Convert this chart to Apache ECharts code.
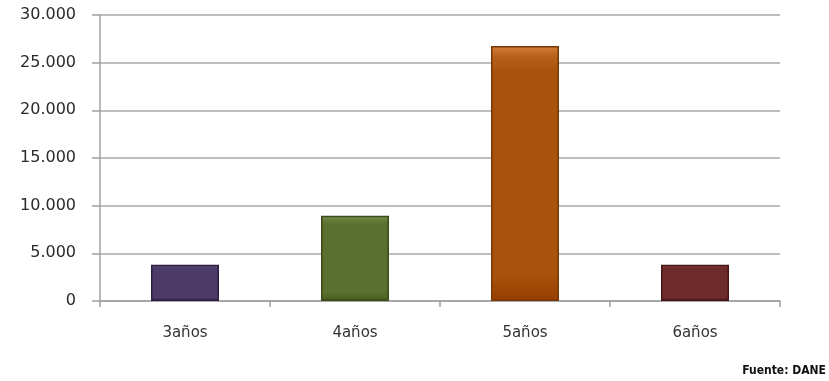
<!DOCTYPE html>
<html>
<head>
<meta charset="utf-8">
<script src="https://cdn.jsdelivr.net/npm/echarts@6/dist/echarts.min.js"></script>
<style>
  html, body { margin: 0; padding: 0; background: #fff; }
  #chart { width: 829px; height: 381px; }
</style>
</head>
<body>
<div id="chart"></div>
<script>
var categories = ['3años', '4años', '5años', '6años'];
var values = [3800, 8950, 26750, 3800];
var barColors = ['#4b3b66', '#5b6f2f', '#a9520d', '#6d2b2b'];
var edgeColors = ['#2b1e3e', '#3b4a1a', '#763804', '#461616'];
var yTicks = [0, 5000, 10000, 15000, 20000, 25000, 30000];

function fmt(v) {
    return String(v).replace(/\B(?=(\d{3})+(?!\d))/g, '.');
}

function shade(hex, amt) {
    var n = parseInt(hex.slice(1), 16);
    var r = Math.min(255, Math.max(0, (n >> 16) + amt));
    var g = Math.min(255, Math.max(0, ((n >> 8) & 255) + amt));
    var b = Math.min(255, Math.max(0, (n & 255) + amt));
    return 'rgb(' + r + ',' + g + ',' + b + ')';
}

var myChart = echarts.init(document.getElementById('chart'));

var option = {
    animation: false,
    textStyle: { fontFamily: 'DejaVu Sans, Verdana, sans-serif' },
    grid: { left: 100, right: 49, top: 15, bottom: 80, containLabel: false },
    xAxis: {
        type: 'category',
        data: categories,
        axisLine: { show: true, lineStyle: { color: '#a0a0a0', width: 1.5 } },
        axisTick: { show: true, length: 6, lineStyle: { color: '#a0a0a0', width: 1.5 } },
        axisLabel: { color: '#333', fontSize: 15, margin: 25 }
    },
    yAxis: {
        type: 'value',
        min: yTicks[0],
        max: yTicks[yTicks.length - 1],
        interval: 5000,
        axisLine: { show: true, lineStyle: { color: '#a0a0a0', width: 1.5 } },
        axisTick: { show: true, length: 8, lineStyle: { color: '#a0a0a0', width: 1.5 } },
        splitLine: { show: true, lineStyle: { color: '#a8a8a8', width: 1.5 } },
        axisLabel: {
            color: '#2a2a2a',
            fontSize: 16,
            margin: 24,
            formatter: function (v) { return fmt(v); }
        }
    },
    series: [{
        type: 'bar',
        barWidth: '40%',
        data: values.map(function (v, i) {
            return {
                value: v,
                itemStyle: {
                    color: {
                        type: 'linear', x: 0, y: 0, x2: 0, y2: 1,
                        colorStops: [
                            { offset: 0, color: shade(barColors[i], 45) },
                            { offset: 0.04, color: shade(barColors[i], 15) },
                            { offset: 0.1, color: barColors[i] },
                            { offset: 0.9, color: barColors[i] },
                            { offset: 1, color: shade(barColors[i], -20) }
                        ]
                    },
                    borderColor: edgeColors[i],
                    borderWidth: 1.5
                }
            };
        })
    }],
    graphic: [{
        type: 'text',
        right: 3,
        bottom: 4,
        style: {
            text: 'Fuente: DANE',
            fill: '#111',
            font: 'bold 12px "DejaVu Sans Condensed", "Liberation Sans Narrow", sans-serif'
        }
    }]
};

myChart.setOption(option);
</script>
</body>
</html>
